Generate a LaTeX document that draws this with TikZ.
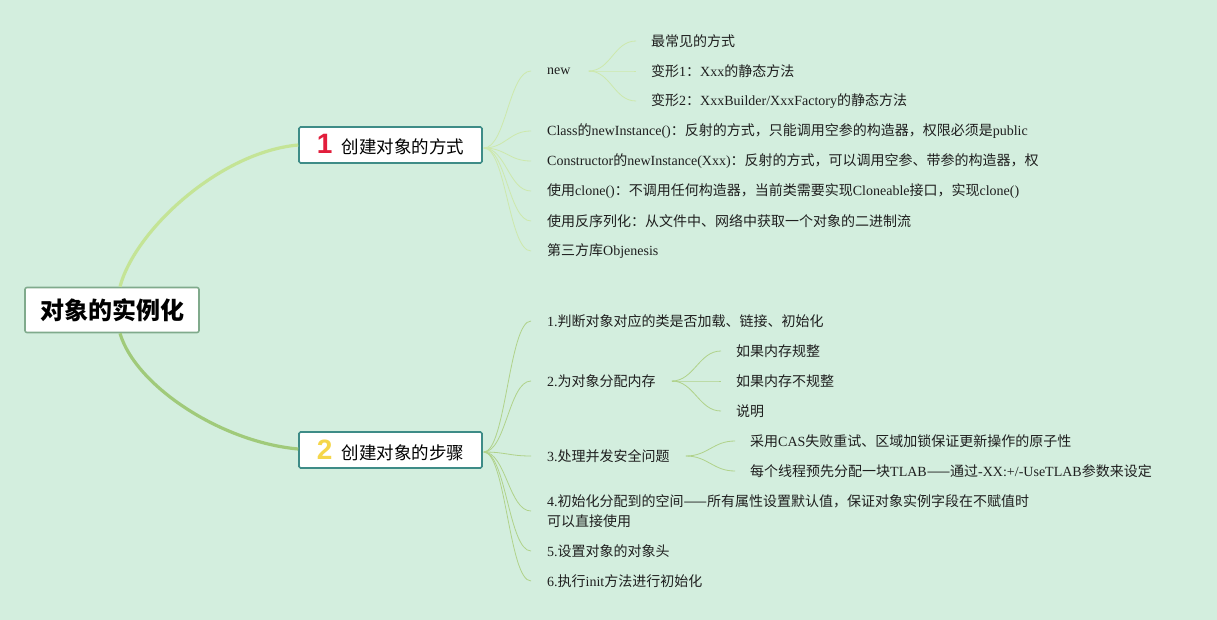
\documentclass[tikz,border=0pt]{standalone}
\usepackage{fontspec}
\setmainfont{Liberation Serif}
\newfontfamily\cjk{Noto Sans CJK SC}
\newfontfamily\badgefont{Liberation Sans}
\usetikzlibrary{positioning, calc}
\definecolor{cBack}{RGB}{211,238,222}
\definecolor{cRootLine}{RGB}{128,170,140}
\definecolor{cTopicLine}{RGB}{62,140,135}
\definecolor{cMainA}{RGB}{196,228,150}
\definecolor{cMainB}{RGB}{160,202,122}
\definecolor{cLeafA}{RGB}{205,232,172}
\definecolor{cLeafB}{RGB}{176,210,138}
\definecolor{cBadgeRed}{RGB}{226,30,60}
\definecolor{cBadgeYellow}{RGB}{245,214,74}

% CJK characters switch to the sans font
\XeTeXinterchartokenstate=1
\newXeTeXintercharclass\cjkclass
\newcount\cjkcnt
\cjkcnt="3000
\loop \XeTeXcharclass\cjkcnt=\cjkclass \advance\cjkcnt by 1 \ifnum\cjkcnt<"A000 \repeat
\cjkcnt="FF00
\loop \XeTeXcharclass\cjkcnt=\cjkclass \advance\cjkcnt by 1 \ifnum\cjkcnt<"FFF0 \repeat
\XeTeXcharclass"2014=\cjkclass
\XeTeXinterchartoks 0 \cjkclass = {\begingroup\cjk}
\XeTeXinterchartoks 4095 \cjkclass = {\begingroup\cjk}
\XeTeXinterchartoks \cjkclass 0 = {\endgroup}
\XeTeXinterchartoks \cjkclass 4095 = {\endgroup}

\begin{document}
\begin{tikzpicture}[x=1pt, y=-1pt, every node/.style={font=\fontsize{14}{20}\selectfont},
    leaf/.style={anchor=west, inner sep=0pt, text=black!88},
    topic/.style={draw=cTopicLine, line width=1.6pt, fill=white, rounded corners=1.5pt,
        minimum width=183, minimum height=36, inner sep=0pt, font=\fontsize{17.5}{20}\selectfont},
    mainA/.style={cMainA, line width=3.2pt},
    mainB/.style={cMainB, line width=3.2pt},
    branchA/.style={cLeafA, line width=0.8pt},
    branchB/.style={cLeafB, line width=0.8pt}]
  \useasboundingbox (0,0) rectangle (1217,620);
  \fill[cBack] (0,0) rectangle (1217,620);

  % centre and the two topics
  \node[draw=cRootLine, line width=1.6pt, fill=white, rounded corners=2pt, minimum width=174,
      minimum height=45, inner sep=0pt, font=\fontsize{24}{26}\selectfont\bfseries] (root) at (112,310) {对象的实例化};
  \node[topic] (topicWay) at (390.5,145) {{\badgefont\bfseries\fontsize{28}{28}\selectfont\color{cBadgeRed}1}\hspace{9pt}创建对象的方式};
  \node[topic] (topicStep) at (390.5,450) {{\badgefont\bfseries\fontsize{28}{28}\selectfont\color{cBadgeYellow}2}\hspace{9pt}创建对象的步骤};

  \draw[mainA] ($(root.north)+(8,0)$) .. controls (135,230) and (220,152) .. ($(topicWay.west)+(0,0)$);
  \draw[mainB] ($(root.south)+(8,0)$) .. controls (135,385) and (220,442) .. ($(topicStep.west)+(0,-1)$);

  % ways
  \node[leaf] (wNew) at (547,71) {new};
  \node[leaf] (wClass) at (547,131) {Class的newInstance()：反射的方式，只能调用空参的构造器，权限必须是public};
  \node[leaf] (wCtor) at (547,161) {Constructor的newInstance(Xxx)：反射的方式，可以调用空参、带参的构造器，权};
  \node[leaf] (wClone) at (547,191) {使用clone()：不调用任何构造器，当前类需要实现Cloneable接口，实现clone()};
  \node[leaf] (wSerial) at (547,221) {使用反序列化：从文件中、网络中获取一个对象的二进制流};
  \node[leaf] (wLib) at (547,251) {第三方库Objenesis};

  \node[leaf] (nCommon) at (651,41) {最常见的方式};
  \node[leaf] (nVarA) at (651,71) {变形1：Xxx的静态方法};
  \node[leaf] (nVarB) at (651,101) {变形2：XxxBuilder/XxxFactory的静态方法};

  \foreach \leaf in {wNew,wClass,wCtor,wClone,wSerial,wLib}
    \draw[branchA] ($(topicWay.east)+(1,3)$) .. controls +(22,0) and +(-22,0) .. ($(\leaf.west)+(-16,0)$);
  \foreach \leaf in {nCommon,nVarA,nVarB}
    \draw[branchA] ($(wNew.east)+(18,0)$) .. controls +(22,0) and +(-22,0) .. ($(\leaf.west)+(-15,0)$);

  % steps
  \node[leaf] (sCheck) at (547,321) {1.判断对象对应的类是否加载、链接、初始化};
  \node[leaf] (sAlloc) at (547,381) {2.为对象分配内存};
  \node[leaf] (sSafe) at (547,456) {3.处理并发安全问题};
  \node[leaf, align=left] (sInit) at (547,511) {4.初始化分配到的空间——所有属性设置默认值，保证对象实例字段在不赋值时\\可以直接使用};
  \node[leaf] (sHeader) at (547,551) {5.设置对象的对象头};
  \node[leaf] (sRun) at (547,581) {6.执行init方法进行初始化};

  \node[leaf] (aTidy) at (736,351) {如果内存规整};
  \node[leaf] (aUntidy) at (736,381) {如果内存不规整};
  \node[leaf] (aNote) at (736,411) {说明};

  \node[leaf] (cCas) at (750,441) {采用CAS失败重试、区域加锁保证更新操作的原子性};
  \node[leaf] (cTlab) at (750,471) {每个线程预先分配一块TLAB——通过-XX:+/-UseTLAB参数来设定};

  \foreach \leaf in {sCheck,sAlloc,sSafe,sInit,sHeader,sRun}
    \draw[branchB] ($(topicStep.east)+(1,2)$) .. controls +(22,0) and +(-22,0) .. ($(\leaf.west)+(-16,0)$);
  \foreach \leaf in {aTidy,aUntidy,aNote}
    \draw[branchB] ($(sAlloc.east)+(16,0)$) .. controls +(22,0) and +(-22,0) .. ($(\leaf.west)+(-15,0)$);
  \foreach \leaf in {cCas,cTlab}
    \draw[branchB] ($(sSafe.east)+(16,0)$) .. controls +(22,0) and +(-22,0) .. ($(\leaf.west)+(-15,0)$);
\end{tikzpicture}
\end{document}
